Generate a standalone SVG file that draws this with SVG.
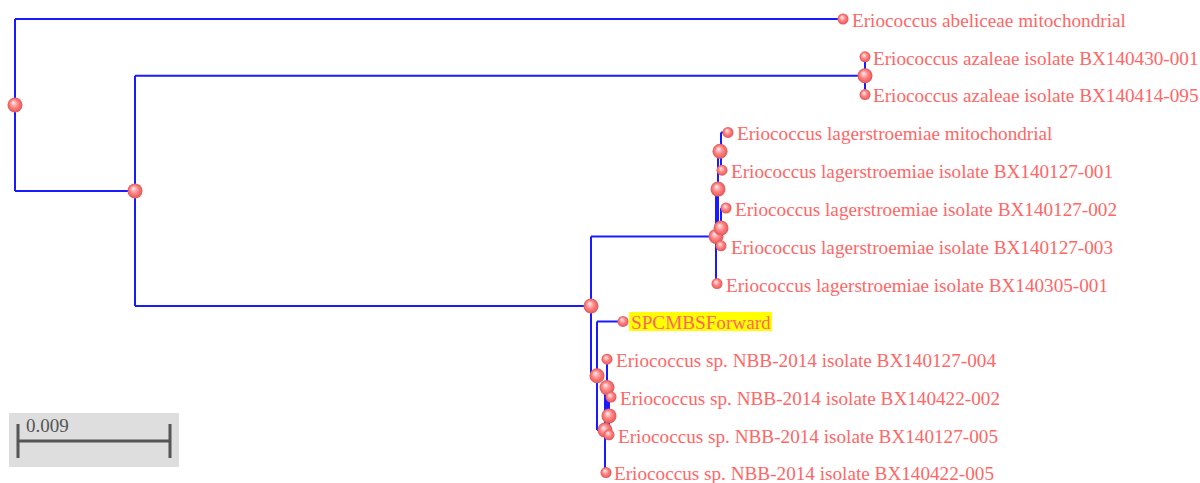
<svg xmlns="http://www.w3.org/2000/svg" width="1200" height="483" viewBox="0 0 1200 483">
<defs>
<radialGradient id="ball" cx="50%" cy="50%" r="50%" fx="38%" fy="32%">
<stop offset="0%" stop-color="#fff0f0"/>
<stop offset="55%" stop-color="#ff8282"/>
<stop offset="100%" stop-color="#e25656"/>
</radialGradient>
<style>
.br{stroke:#1a1aff;stroke-width:2;fill:none}
.nd{fill:url(#ball)}
.lb{font-family:"Liberation Serif","Times New Roman",serif;font-size:19.2px;fill:#ff6666}
.sc{font-family:"Liberation Serif","Times New Roman",serif;font-size:19px;fill:#555}
</style>
</defs>
<rect width="1200" height="483" fill="#fff"/>
<g id="connectors">
<path class="br" d="M15,19V190.9M15,19H843M15,190.9H135"/>
<path class="br" d="M135,75.7V306M135,75.7H865M135,306H591"/>
<path class="br" d="M865,56.8V94.6"/>
<path class="br" d="M591,236.4V375.8M591,236.4H716M591,375.8H597"/>
<path class="br" d="M716,189.1V283.6M716,189.1H718M716,283.6H717"/>
<path class="br" d="M718,151.3V226.9M718,151.3H720M718,226.9H721"/>
<path class="br" d="M721,132.4V170.2M721,132.4H728"/>
<path class="br" d="M721,208V245.8M721,208H726"/>
<path class="br" d="M597,321.4V430.1M597,321.4H623M597,430.1H605"/>
<path class="br" d="M605,387.6V472.6M605,387.6H607"/>
<path class="br" d="M607,359.2V415.9M607,415.9H609"/>
<path class="br" d="M609,397V434.8M609,397H611"/>
</g>
<g id="scale">
<rect x="9" y="413" width="170" height="54" fill="#dedede"/>
<path d="M18,441H170M18,424V458M170,424V458" stroke="#555" stroke-width="3" fill="none"/>
<text class="sc" x="26" y="432">0.009</text>
</g>
<g id="root"><circle class="nd" cx="15" cy="105" r="7.5"/></g>
<g id="n135"><circle class="nd" cx="135" cy="190.9" r="7.5"/></g>
<g id="n_azaleae"><circle class="nd" cx="865" cy="75.7" r="7.5"/></g>
<g id="n591"><circle class="nd" cx="591" cy="306" r="7.5"/></g>
<g id="nL0"><circle class="nd" cx="716" cy="236.4" r="7.5"/></g>
<g id="nX"><circle class="nd" cx="718" cy="189.1" r="7.5"/></g>
<g id="nA"><circle class="nd" cx="720" cy="151.3" r="7.5"/></g>
<g id="nB"><circle class="nd" cx="721" cy="228" r="7.5"/></g>
<g id="nN"><circle class="nd" cx="597" cy="375.8" r="7.5"/></g>
<g id="nM"><circle class="nd" cx="605" cy="430.1" r="7.5"/></g>
<g id="nP"><circle class="nd" cx="607" cy="387.6" r="7.5"/></g>
<g id="nQ"><circle class="nd" cx="609" cy="415.9" r="7.5"/></g>
<g id="leaf1"><circle class="nd" cx="843" cy="19" r="5.5"/><text class="lb" x="852" y="27">Eriococcus abeliceae mitochondrial</text></g>
<g id="leaf2"><circle class="nd" cx="865" cy="56.8" r="5.5"/><text class="lb" x="873" y="65">Eriococcus azaleae isolate BX140430-001</text></g>
<g id="leaf3"><circle class="nd" cx="865" cy="94.6" r="5.5"/><text class="lb" x="873" y="102">Eriococcus azaleae isolate BX140414-095</text></g>
<g id="leaf4"><circle class="nd" cx="728" cy="132.4" r="5.5"/><text class="lb" x="737" y="140">Eriococcus lagerstroemiae mitochondrial</text></g>
<g id="leaf5"><circle class="nd" cx="722" cy="170.2" r="5.5"/><text class="lb" x="731" y="178">Eriococcus lagerstroemiae isolate BX140127-001</text></g>
<g id="leaf6"><circle class="nd" cx="726" cy="208" r="5.5"/><text class="lb" x="735" y="216">Eriococcus lagerstroemiae isolate BX140127-002</text></g>
<g id="leaf7"><circle class="nd" cx="721" cy="245.8" r="5.5"/><text class="lb" x="731" y="254">Eriococcus lagerstroemiae isolate BX140127-003</text></g>
<g id="leaf8"><circle class="nd" cx="717" cy="283.6" r="5.5"/><text class="lb" x="726" y="292">Eriococcus lagerstroemiae isolate BX140305-001</text></g>
<g id="leaf9"><rect x="629" y="312" width="143" height="19" fill="#ffff00"/><circle class="nd" cx="623" cy="321.4" r="5.5"/><text class="lb" x="631" y="329">SPCMBSForward</text></g>
<g id="leaf10"><circle class="nd" cx="607" cy="359.2" r="5.5"/><text class="lb" x="616" y="367">Eriococcus sp. NBB-2014 isolate BX140127-004</text></g>
<g id="leaf11"><circle class="nd" cx="611" cy="397" r="5.5"/><text class="lb" x="620" y="405">Eriococcus sp. NBB-2014 isolate BX140422-002</text></g>
<g id="leaf12"><circle class="nd" cx="609" cy="434.8" r="5.5"/><text class="lb" x="618" y="443">Eriococcus sp. NBB-2014 isolate BX140127-005</text></g>
<g id="leaf13"><circle class="nd" cx="606" cy="472.6" r="5.5"/><text class="lb" x="614" y="480">Eriococcus sp. NBB-2014 isolate BX140422-005</text></g>
</svg>
